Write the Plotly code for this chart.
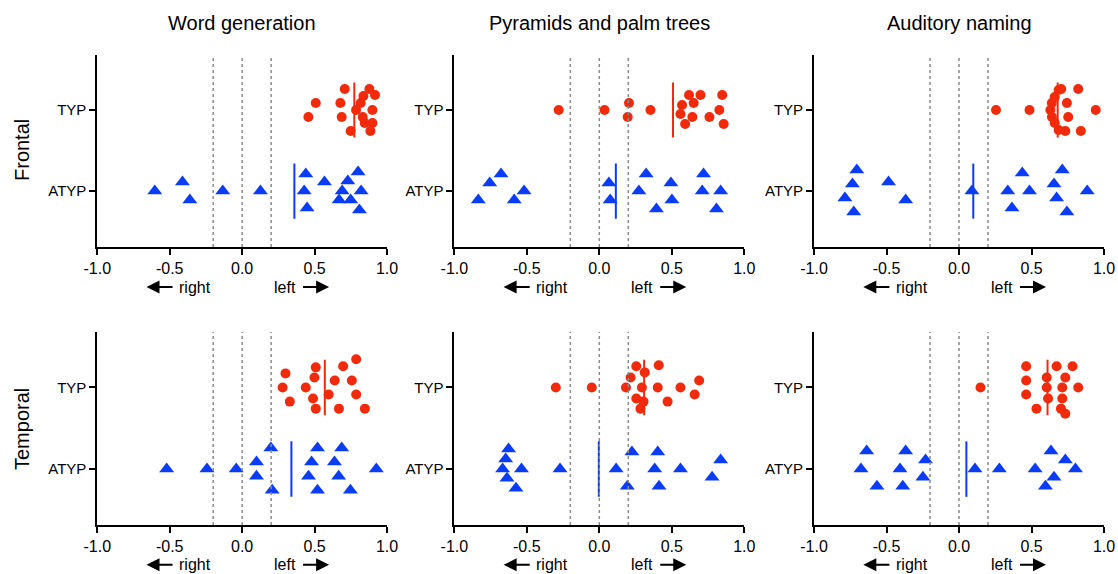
import numpy as np
import plotly.graph_objects as go

# ---- labels ----
tasks = ["Word generation", "Pyramids and palm trees", "Auditory naming"]
regions = ["Frontal", "Temporal"]
group_labels = ["ATYP", "TYP"]
x_tick_vals = [-1.0, -0.5, 0.0, 0.5, 1.0]
x_tick_text = ["-1.0", "-0.5", "0.0", "0.5", "1.0"]
cutoffs = [-0.2, 0.0, 0.2]

# ---- laterality indices (one value per participant) ----
frontal_wordgen_typ = [0.708, 0.878, 0.837, 0.917, 0.508, 0.678, 0.818, 0.786,
                       0.899, 0.457, 0.687, 0.832, 0.846, 0.899, 0.749, 0.885]
frontal_wordgen_atyp = [-0.603, -0.412, -0.361, -0.134, 0.126, 0.439, 0.428, 0.448,
                        0.568, 0.729, 0.690, 0.800, 0.821, 0.669, 0.749, 0.809]
frontal_ppt_typ = [-0.280, 0.036, 0.205, 0.196, 0.353, 0.619, 0.698, 0.848,
                   0.571, 0.651, 0.560, 0.642, 0.592, 0.760, 0.828, 0.858]
frontal_ppt_atyp = [-0.835, -0.756, -0.678, -0.587, -0.519, 0.066, 0.075, 0.323,
                    0.273, 0.394, 0.494, 0.501, 0.719, 0.710, 0.837, 0.808]
frontal_naming_typ = [0.255, 0.486, 0.705, 0.822, 0.744, 0.943, 0.753, 0.733,
                      0.840, 0.687, 0.660, 0.640, 0.630, 0.641, 0.660, 0.687]
frontal_naming_atyp = [-0.705, -0.735, -0.787, -0.726, -0.486, -0.368, 0.089, 0.436,
                       0.336, 0.486, 0.365, 0.712, 0.655, 0.673, 0.744, 0.884]
temporal_wordgen_typ = [0.299, 0.279, 0.329, 0.508, 0.499, 0.439, 0.489, 0.508,
                        0.639, 0.597, 0.668, 0.697, 0.757, 0.787, 0.787, 0.847]
temporal_wordgen_atyp = [-0.521, -0.243, -0.041, 0.099, 0.099, 0.198, 0.207, 0.520,
                         0.479, 0.458, 0.520, 0.687, 0.637, 0.666, 0.747, 0.926]
temporal_ppt_typ = [-0.300, -0.052, 0.184, 0.216, 0.255, 0.314, 0.294, 0.255,
                    0.305, 0.284, 0.410, 0.403, 0.471, 0.560, 0.689, 0.658]
temporal_ppt_atyp = [-0.626, -0.646, -0.667, -0.637, -0.575, -0.537, -0.271, 0.116,
                     0.225, 0.193, 0.403, 0.382, 0.412, 0.560, 0.778, 0.837]
temporal_naming_typ = [0.148, 0.463, 0.463, 0.463, 0.534, 0.605, 0.605, 0.614,
                       0.673, 0.733, 0.712, 0.712, 0.703, 0.733, 0.783, 0.822]
temporal_naming_atyp = [-0.637, -0.676, -0.566, -0.368, -0.407, -0.388, -0.231, -0.249,
                        0.110, 0.278, 0.525, 0.634, 0.733, 0.655, 0.596, 0.803]

# ---- vertical swarm offsets (pixels, downward positive) ----
swarm_frontal_wordgen_typ = [-21, -21, -14, -15, -7, -7, -7, 0, 0, 7, 7, 7, 13, 13, 21, 21]
swarm_frontal_wordgen_atyp = [0, -9, 9, 0, 0, -17, 0, 17, -9, -10, 0, -19, 0, 9, 9, 19]
swarm_frontal_ppt_typ = [0, 0, -7, 7, 0, -15, -15, -15, -5, -7, 4, 7, 14, 7, 0, 14]
swarm_frontal_ppt_atyp = [9, -8, -17, 9, 0, -8, 9, -17, 0, 18, -8, 9, -17, 0, 0, 18]
swarm_frontal_naming_typ = [0, 0, -21, -21, -7, 0, 7, 21, 21, -20, -13, -7, 0, 7, 13, 20]
swarm_frontal_naming_atyp = [-21, -7, 7, 21, -9, 9, 0, -18, 0, 0, 17, -21, -7, 7, 21, 0]
swarm_temporal_wordgen_typ = [-14, 0, 14, -20, -10, 0, 11, 21, -7, 7, 21, -21, -7, -28, 7, 21]
swarm_temporal_wordgen_atyp = [0, 0, 0, -7, 7, -21, 21, -21, -7, 7, 21, -21, -7, 7, 21, 0]
swarm_temporal_ppt_typ = [0, 0, 0, -10, -21, -15, 0, 11, 14, 21, -22, 0, 14, 0, -7, 7]
swarm_temporal_ppt_atyp = [-20, -10, 0, 9, 19, 0, 0, 0, -17, 17, -17, 0, 17, 0, 8, -9]
swarm_temporal_naming_typ = [0, -21, -7, 7, 21, -10, 0, 11, -21, -10, 0, 11, 21, 26, -21, 0]
swarm_temporal_naming_atyp = [-18, 0, 17, -18, 0, 17, -9, 8, 0, 0, 0, -18, -9, 8, 17, 0]

panels = [
    (frontal_wordgen_typ, swarm_frontal_wordgen_typ, frontal_wordgen_atyp, swarm_frontal_wordgen_atyp),
    (frontal_ppt_typ, swarm_frontal_ppt_typ, frontal_ppt_atyp, swarm_frontal_ppt_atyp),
    (frontal_naming_typ, swarm_frontal_naming_typ, frontal_naming_atyp, swarm_frontal_naming_atyp),
    (temporal_wordgen_typ, swarm_temporal_wordgen_typ, temporal_wordgen_atyp, swarm_temporal_wordgen_atyp),
    (temporal_ppt_typ, swarm_temporal_ppt_typ, temporal_ppt_atyp, swarm_temporal_ppt_atyp),
    (temporal_naming_typ, swarm_temporal_naming_typ, temporal_naming_atyp, swarm_temporal_naming_atyp),
]

# ---- styling ----
RED = "#F22A0C"
BLUE = "#0A3CF5"
FONT = "Arial, Liberation Sans, Helvetica, sans-serif"
W, H = 1118, 574
PX_PER_CAT = 81.0          # pixel distance between the TYP and ATYP rows
MEAN_HALF = 0.34           # half-height of the mean bar, in category units

col_domains = [(0.0870, 0.3462), (0.4064, 0.6657), (0.7281, 0.9875)]
row_domains = [(0.5697, 0.9042), (0.0854, 0.4216)]
row_yranges = [(-0.69, 1.68), (-0.685, 1.68)]
arrow_row_y = [0.500, 0.016]

fig = go.Figure()
layout = dict(
    template="none",
    width=W, height=H,
    margin=dict(l=0, r=0, t=0, b=0, pad=0),
    paper_bgcolor="white", plot_bgcolor="white",
    showlegend=False,
    font=dict(family=FONT, color="black", size=16),
)
annotations = []
shapes = []

for k, (typ, typ_sw, atyp, atyp_sw) in enumerate(panels):
    r, c = divmod(k, 3)
    idx = k + 1
    suffix = "" if idx == 1 else str(idx)
    xa, ya = f"x{suffix}", f"y{suffix}"
    xkey, ykey = f"xaxis{suffix}", f"yaxis{suffix}"

    for vals, sw, base, color, symbol, size in (
        (typ, typ_sw, 1.0, RED, "circle", 10),
        (atyp, atyp_sw, 0.0, BLUE, "triangle-up", 13),
    ):
        m = float(np.mean(vals))
        fig.add_trace(go.Scatter(
            x=[m, m], y=[base - MEAN_HALF, base + MEAN_HALF],
            mode="lines", line=dict(color=color, width=2),
            xaxis=xa, yaxis=ya, hoverinfo="skip",
        ))
        ys = base - np.asarray(sw, dtype=float) / PX_PER_CAT
        fig.add_trace(go.Scatter(
            x=vals, y=ys, mode="markers",
            marker=dict(symbol=symbol, size=size, color=color, line=dict(width=0)),
            xaxis=xa, yaxis=ya, cliponaxis=False,
        ))

    layout[xkey] = dict(
        domain=list(col_domains[c]), anchor=ya, range=[-1, 1], automargin=False,
        tickvals=x_tick_vals, ticktext=x_tick_text,
        showline=True, linecolor="black", linewidth=1.8,
        ticks="outside", ticklen=6, tickwidth=1.8, tickcolor="black",
        showgrid=False, zeroline=False, tickfont=dict(size=16),
    )
    layout[ykey] = dict(
        domain=list(row_domains[r]), anchor=xa, range=list(row_yranges[r]), automargin=False,
        tickvals=[0, 1], ticktext=group_labels,
        showline=True, linecolor="black", linewidth=1.8,
        ticks="outside", ticklen=6, tickwidth=1.8, tickcolor="black",
        showgrid=False, zeroline=False, tickfont=dict(size=15),
    )

    # laterality cut-offs
    for cv in cutoffs:
        shapes.append(dict(
            type="line", xref=xa, yref=f"{ya} domain",
            x0=cv, x1=cv, y0=0, y1=1, layer="above",
            line=dict(color="#8a8a8a", width=1.5, dash="dot"),
        ))

    # direction hints under the axis
    ay_paper = arrow_row_y[r]
    annotations.append(dict(
        x=-0.66, y=ay_paper, xref=xa, yref="paper", ax=-0.47, ay=0, axref=xa,
        text="", showarrow=True, arrowhead=2, arrowsize=1.3, arrowwidth=2,
        arrowcolor="black", standoff=0, startstandoff=0,
    ))
    annotations.append(dict(
        x=0.60, y=ay_paper, xref=xa, yref="paper", ax=0.41, ay=0, axref=xa,
        text="", showarrow=True, arrowhead=2, arrowsize=1.3, arrowwidth=2,
        arrowcolor="black", standoff=0, startstandoff=0,
    ))
    annotations.append(dict(
        x=-0.323, y=ay_paper, xref=xa, yref="paper", text="right",
        showarrow=False, xanchor="center", yanchor="middle", font=dict(size=16),
    ))
    annotations.append(dict(
        x=0.293, y=ay_paper, xref=xa, yref="paper", text="left",
        showarrow=False, xanchor="center", yanchor="middle", font=dict(size=16),
    ))

# column titles
for c, title in enumerate(tasks):
    annotations.append(dict(
        x=sum(col_domains[c]) / 2, y=1 - 23 / H, xref="paper", yref="paper",
        text=title, showarrow=False, xanchor="center", yanchor="middle",
        font=dict(size=20),
    ))

# row titles
for r, region in enumerate(regions):
    annotations.append(dict(
        x=22 / W, y=[1 - 150 / H, 1 - 429 / H][r], xref="paper", yref="paper",
        text=region, textangle=-90, showarrow=False,
        xanchor="center", yanchor="middle", font=dict(size=20),
    ))

layout["annotations"] = annotations
layout["shapes"] = shapes
fig.update_layout(**layout)

fig.write_html("out.html")
